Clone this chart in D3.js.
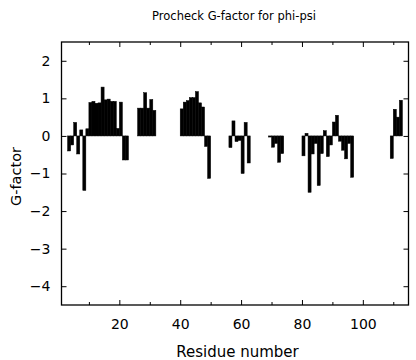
<!DOCTYPE html>
<html>
<head>
<meta charset="utf-8">
<script src="https://cdn.jsdelivr.net/npm/d3@7"></script>
<style>
  html, body { margin: 0; padding: 0; background: #fff; }
  svg { display: block; font-family: "DejaVu Sans", "Liberation Sans", Arial, sans-serif; }
</style>
</head>
<body>
<svg id="chart" width="416" height="360"></svg>
<script>
// Residue numbers and G-factor values
const residues = [3,4,5,6,7,8,9,10,11,12,13,14,15,16,17,18,19,20,21,22,
  26,27,28,29,30,31,
  40,41,42,43,44,45,46,47,48,49,
  56,57,58,59,60,61,62,
  69,70,71,72,73,
  80,81,82,83,84,85,86,87,88,89,90,91,92,93,94,95,96,
  109,110,111,112];
const gfactor = [-0.40,-0.24,0.36,-0.48,0.16,-1.45,0.19,0.89,0.92,0.87,0.88,1.30,0.96,0.98,0.92,0.92,0.20,0.90,-0.64,-0.64,
  0.74,0.74,1.15,0.74,0.97,0.68,
  0.72,0.90,0.94,1.02,1.02,1.18,0.88,0.77,-0.28,-1.13,
  -0.31,0.40,-0.15,-0.12,-1.00,0.36,-0.72,
  -0.03,-0.30,-0.20,-0.70,-0.47,
  -0.53,0.07,-1.50,-0.48,-0.20,-1.32,-0.47,0.14,-0.55,-0.24,0.37,0.55,-0.14,-0.38,-0.61,-0.20,-1.10,
  -0.60,0.71,0.50,0.95];
const xMajorTicks = [20,40,60,80,100];
const xMinorTicks = [10,30,50,70,90,110];
const yTicks = [-4,-3,-2,-1,0,1,2];

const titleText = "Procheck G-factor for phi-psi";
const xLabelText = "Residue number";
const yLabelText = "G-factor";

const data = residues.map((r, i) => ({r, v: gfactor[i]}));

const svg = d3.select("#chart");
const PL = 61.5, PR = 408.5, PT = 42, PB = 305;

const x = d3.scaleLinear().domain([1, 115]).range([PL, PR]);
const y = d3.scaleLinear().domain([-4.5, 2.5]).range([PB, PT]);

// bars
svg.append("g").selectAll("rect").data(data).join("rect")
  .attr("x", d => x(d.r))
  .attr("width", d => x(d.r + 1) - x(d.r))
  .attr("y", d => Math.min(y(d.v), y(0)))
  .attr("height", d => Math.max(1, Math.abs(y(d.v) - y(0))))
  .attr("fill", "#000")
  .attr("stroke", "#000")
  .attr("stroke-width", 0.5);

// axes (ticks inward, on all four sides)
const fs = "14px";
const gBottom = svg.append("g").attr("transform", `translate(0,${PB})`)
  .call(d3.axisBottom(x).tickValues(xMajorTicks).tickSize(-5).tickPadding(14).tickFormat(d3.format("d")));
const gBottomMinor = svg.append("g").attr("transform", `translate(0,${PB})`)
  .call(d3.axisBottom(x).tickValues(xMinorTicks).tickSize(-3).tickFormat(""));
const gTop = svg.append("g").attr("transform", `translate(0,${PT})`)
  .call(d3.axisTop(x).tickValues(xMajorTicks).tickSize(-5).tickFormat(""));
const gTopMinor = svg.append("g").attr("transform", `translate(0,${PT})`)
  .call(d3.axisTop(x).tickValues(xMinorTicks).tickSize(-3).tickFormat(""));
const gLeft = svg.append("g").attr("transform", `translate(${PL},0)`)
  .call(d3.axisLeft(y).tickValues(yTicks).tickSize(-5).tickPadding(11).tickFormat(d3.format("d")));
const gRight = svg.append("g").attr("transform", `translate(${PR},0)`)
  .call(d3.axisRight(y).tickValues(yTicks).tickSize(-5).tickFormat(""));

[gBottom, gBottomMinor, gTop, gTopMinor, gLeft, gRight].forEach(g => {
  g.select(".domain").remove();
  g.selectAll("line").attr("stroke", "#000").attr("stroke-width", 1);
  g.selectAll("text").attr("fill", "#000").style("font-size", fs)
    .style("font-family", "'DejaVu Sans', sans-serif");
});

// frame
svg.append("rect").attr("x", PL).attr("y", PT).attr("width", PR - PL).attr("height", PB - PT)
  .attr("fill", "none").attr("stroke", "#000").attr("stroke-width", 1.3);

// labels
svg.append("text").attr("x", 234).attr("y", 19.5).attr("text-anchor", "middle")
  .style("font-size", "11.5px").text(titleText);
svg.append("text").attr("x", 237.5).attr("y", 357).attr("text-anchor", "middle")
  .style("font-size", "15px").text(xLabelText);
svg.append("text").attr("transform", `translate(21,${(PT + PB) / 2 + 3}) rotate(-90)`)
  .attr("text-anchor", "middle").style("font-size", "14.5px").text(yLabelText);
</script>
</body>
</html>
